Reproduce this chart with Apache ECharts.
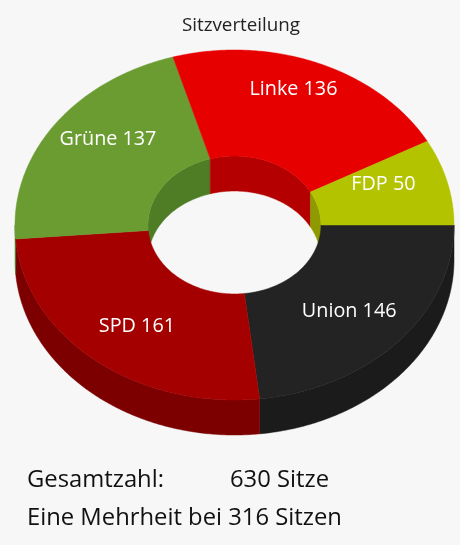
<!DOCTYPE html>
<html lang="de">
<head>
    <meta charset="UTF-8">
    <title>Sitzverteilung</title>
    <script src="https://cdn.jsdelivr.net/npm/echarts@6/dist/echarts.min.js"></script>
    <style>
        body { margin: 0; background: #f7f7f7; }
        #chart { width: 460px; height: 545px; }
    </style>
</head>
<body>
<div id="chart"></div>
<script>
    // Daten
    const parties = ['Union', 'SPD', 'Grüne', 'Linke', 'FDP'];
    const seats = [146, 161, 137, 136, 50];
    const topColors = ['#232323', '#a40000', '#6b9c32', '#e60000', '#b3c300'];
    const sideColors = ['#1b1b1b', '#7c0000', '#4f7d25', '#b40000', '#8e9a00'];
    const totalLabel = 'Gesamtzahl:';
    const majorityLabel = 'Eine Mehrheit bei';

    const total = seats.reduce((a, b) => a + b, 0);
    const majority = Math.floor(total / 2) + 1;
    const starts = [];
    let acc = 0;
    seats.forEach(v => { starts.push(acc); acc += v; });

    // 3D-Optik: Ellipse, Tiefe, Innenradius
    const K = 175 / 219.5;      // Stauchung der Deckfläche
    const KL = 0.913;           // Stauchung für Beschriftungen
    const LABEL_DY = -6.5;
    const DEPTH = 35;
    const INNER = 0.394;
    const LABEL_R = 0.70;
    const FONT = '"Open Sans", "Noto Sans", sans-serif';

    function pt(api, cy, r, a, dy) {
        const p = api.coord([r, a]);
        return [p[0], cy + (p[1] - cy) * K + (dy || 0)];
    }

    function arc(api, cy, r, a0, a1, dy) {
        const out = [];
        const n = Math.max(2, Math.ceil((a1 - a0) / 1));
        for (let i = 0; i <= n; i++) out.push(pt(api, cy, r, a0 + (a1 - a0) * i / n, dy));
        return out;
    }

    function wall(api, cy, r, a0, a1, color) {
        const top = arc(api, cy, r, a0, a1, 0);
        const bottom = arc(api, cy, r, a0, a1, DEPTH).reverse();
        return {
            type: 'polygon',
            shape: { points: top.concat(bottom) },
            style: { fill: color, stroke: color, lineWidth: 0.5 }
        };
    }

    function renderWalls(params, api) {
        const i = params.dataIndex;
        const cy = params.coordSys.cy;
        const s = starts[i], e = starts[i] + seats[i];
        const children = [];
        // vordere Außenwand
        let a0 = Math.max(s, 0), a1 = Math.min(e, total / 2);
        if (a0 < a1) children.push(wall(api, cy, 1, a0, a1, sideColors[i]));
        // hintere Innenwand
        a0 = Math.max(s, total / 2); a1 = Math.min(e, total);
        if (a0 < a1) children.push(wall(api, cy, INNER, a0, a1, sideColors[i]));
        return { type: 'group', children };
    }

    function renderTops(params, api) {
        const i = params.dataIndex;
        const cy = params.coordSys.cy;
        const s = starts[i], e = starts[i] + seats[i];
        const points = arc(api, cy, 1, s, e, 0).concat(arc(api, cy, INNER, s, e, 0).reverse());
        const p = api.coord([LABEL_R, s + seats[i] / 2]);
        return {
            type: 'group',
            children: [{
                type: 'polygon',
                shape: { points },
                style: { fill: topColors[i], stroke: topColors[i], lineWidth: 0.5 }
            }, {
                type: 'text',
                x: p[0],
                y: cy + LABEL_DY + (p[1] - cy) * KL,
                style: {
                    text: parties[i] + ' ' + seats[i],
                    fill: '#fff',
                    font: '19.8px ' + FONT,
                    align: 'center',
                    verticalAlign: 'middle'
                }
            }]
        };
    }

    const data = seats.map((v, i) => [LABEL_R, starts[i] + v / 2]);

    const chart = echarts.init(document.getElementById('chart'));
    chart.setOption({
        backgroundColor: '#f7f7f7',
        animation: false,
        polar: { center: [234.5, 225], radius: 219.5 },
        angleAxis: { type: 'value', min: 0, max: total, startAngle: 0, clockwise: true, show: false },
        radiusAxis: { type: 'value', min: 0, max: 1, show: false },
        series: [
            { type: 'custom', coordinateSystem: 'polar', renderItem: renderWalls, data, z: 1, silent: true },
            { type: 'custom', coordinateSystem: 'polar', renderItem: renderTops, data, z: 2, silent: true }
        ],
        graphic: [
            { type: 'text', x: 241, y: 26, style: { text: 'Sitzverteilung', fill: '#222', font: '18.8px ' + FONT, align: 'center', verticalAlign: 'middle' } },
            { type: 'text', x: 27, y: 480, style: { text: totalLabel, fill: '#111', font: '23.8px ' + FONT, verticalAlign: 'middle' } },
            { type: 'text', x: 230, y: 480, style: { text: total + ' Sitze', fill: '#111', font: '23.8px ' + FONT, verticalAlign: 'middle' } },
            { type: 'text', x: 27, y: 518, style: { text: majorityLabel + ' ' + majority + ' Sitzen', fill: '#111', font: '23.8px ' + FONT, verticalAlign: 'middle' } }
        ]
    });
</script>
</body>
</html>
